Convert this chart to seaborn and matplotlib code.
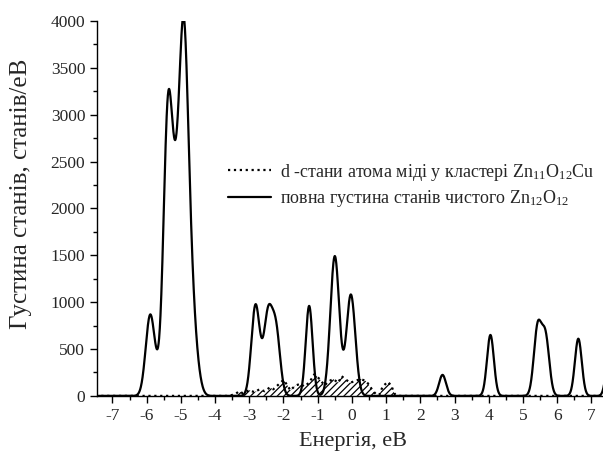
import matplotlib
matplotlib.use("Agg")
import matplotlib.pyplot as plt
import numpy as np
import seaborn as sns
import pandas as pd
from matplotlib.ticker import MultipleLocator

# total DOS of pure Zn12O12: peak centres (eV), heights (states/eV), widths (eV)
total_centres = [-5.90, -5.69, -5.38, -5.15, -4.92, -4.72, -4.55,
                 -2.82, -2.62, -2.45, -2.22, -1.25, -0.50, -0.03,
                 2.65, 4.05, 5.43, 5.66, 6.62, 7.55]
total_heights = [840, 100, 2900, 1410, 3470, 900, 220,
                 950, 80, 810, 680, 960, 1490, 1080,
                 224, 650, 720, 620, 610, 600]
total_widths = [0.13, 0.13, 0.13, 0.13, 0.13, 0.13, 0.13,
                0.12, 0.12, 0.12, 0.12, 0.10, 0.13, 0.13,
                0.10, 0.10, 0.11, 0.11, 0.10, 0.10]

# d-states of the Cu atom in Zn11O12Cu
cu_energy = [-7.5, -3.6, -3.4, -3.3, -3.2, -3.0, -2.85, -2.7, -2.55, -2.4, -2.3,
             -2.15, -2.0, -1.9, -1.8, -1.65, -1.5, -1.4, -1.25, -1.1, -1.0,
             -0.9, -0.8, -0.7, -0.55, -0.4, -0.3, -0.2, -0.05, 0.1, 0.25,
             0.4, 0.5, 0.6, 0.7, 0.8, 0.9, 1.05, 1.15, 1.25, 1.35, 7.5]
cu_dos = [0, 0, 20, 50, 30, 60, 40, 70, 50, 90, 70,
          120, 170, 120, 60, 110, 130, 100, 140, 230, 200,
          160, 110, 150, 180, 140, 210, 180, 140, 160, 180,
          160, 120, 60, 20, 10, 100, 150, 110, 20, 0, 0]

label_cu = "d -стани атома міді у кластері Zn$_{11}$O$_{12}$Cu"
label_total = "повна густина станів чистого Zn$_{12}$O$_{12}$"

energy = np.linspace(-7.5, 7.6, 3000)
dos = np.zeros_like(energy)
for c, h, w in zip(total_centres, total_heights, total_widths):
    dos += h * np.exp(-(energy - c) ** 2 / (2 * w ** 2))
total = pd.DataFrame({"E": energy, "DOS": dos})
cu = pd.DataFrame({"E": cu_energy, "DOS": cu_dos})

sns.set_style("ticks")
plt.rcParams["font.family"] = ["Liberation Serif", "DejaVu Serif"]
plt.rcParams["mathtext.fontset"] = "custom"
plt.rcParams["mathtext.rm"] = "Liberation Serif"
plt.rcParams["mathtext.it"] = "Liberation Serif:italic"
plt.rcParams["axes.unicode_minus"] = False
plt.rcParams["hatch.linewidth"] = 0.9

fig = plt.figure(figsize=(6.03, 4.54), dpi=100)
ax = fig.add_axes([0.161, 0.128, 0.848, 0.826])

ax.fill_between(cu["E"], cu["DOS"], 0, facecolor="none", edgecolor="black",
                hatch="/////", linewidth=0)
sns.lineplot(data=cu, x="E", y="DOS", ax=ax, color="black", linestyle=":",
             linewidth=1.6, label=label_cu)
sns.lineplot(data=total, x="E", y="DOS", ax=ax, color="black",
             linewidth=1.6, label=label_total)

ax.set_xlim(-7.45, 7.5)
ax.set_ylim(0, 4000)
ax.xaxis.set_major_locator(MultipleLocator(1))
ax.xaxis.set_minor_locator(MultipleLocator(0.5))
ax.yaxis.set_major_locator(MultipleLocator(500))
ax.yaxis.set_minor_locator(MultipleLocator(250))
ax.tick_params(which="major", direction="out", length=5, width=1, labelsize=12.5, color="black")
ax.tick_params(which="minor", direction="out", length=3, width=1, color="black")
for s in ["top", "right"]:
    ax.spines[s].set_visible(False)
for s in ["left", "bottom"]:
    ax.spines[s].set_linewidth(1)
    ax.spines[s].set_color("black")

ax.set_xlabel("Енергія, еВ", fontsize=16, labelpad=6)
ax.set_ylabel("Густина станів, станів/еВ", fontsize=18)
ax.yaxis.set_label_coords(-0.128, 0.54)

ax.legend(loc="upper left", bbox_to_anchor=(0.256, 0.625), frameon=False,
          fontsize=13, handlelength=2.4, handletextpad=0.5, labelspacing=0.3,
          borderpad=0, borderaxespad=0)

fig.savefig("out.png", dpi=100)
